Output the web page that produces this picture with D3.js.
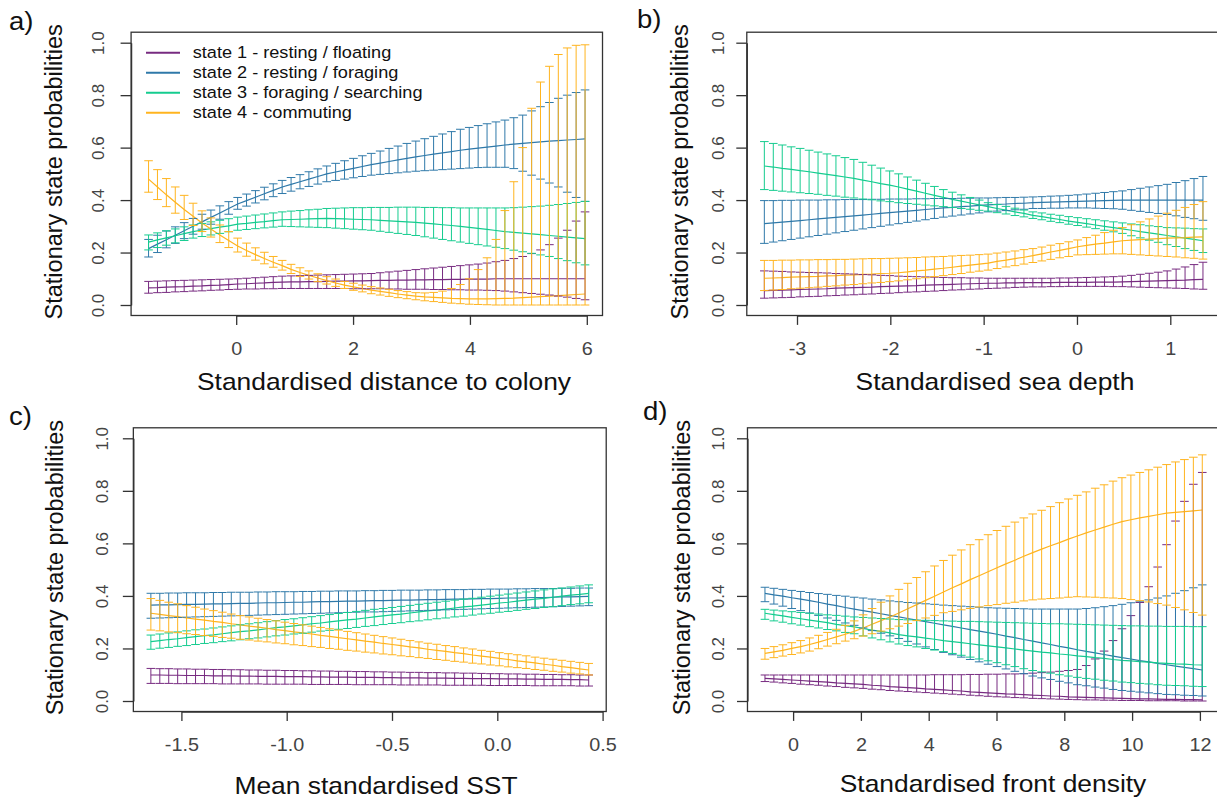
<!DOCTYPE html>
<html>
<head>
<meta charset="utf-8">
<script src="https://cdn.jsdelivr.net/npm/d3@7/dist/d3.min.js"></script>
<style>
  body { margin: 0; background: #fff; }
  text { font-family: "Liberation Sans", Arial, sans-serif; }
</style>
</head>
<body>
<svg id="fig" width="1217" height="801"></svg>
<script>
// covariate grid of each panel: 50 evenly spaced values between these ends
var nGrid = 50;
var aCov = [-1.5, 5.97], bCov = [-3.35, 1.35], cCov = [-1.645, 0.434], dCov = [-0.83, 12.07];

var stateNames = ["state 1 - resting / floating", "state 2 - resting / foraging",
                  "state 3 - foraging / searching", "state 4 - commuting"];
var stateColors = ["#772b80", "#2f79a9", "#15cc8f", "#ffb41f"];

var yTicks = [0, 20, 40, 60, 80, 100]; // percent
var aTicks = [0, 2, 4, 6], bTicks = [-3, -2, -1, 0, 1],
    cTicks = [-1.5, -1, -0.5, 0, 0.5], dTicks = [0, 2, 4, 6, 8, 10, 12];

// stationary state probabilities in %, lower CI / mean / upper CI
// a) distance to colony
var a1lo = [4.5,4.7,4.8,5,5.1,5.3,5.4,5.6,5.7,5.9,6,6.1,6.1,6.2,6.2,6.3,6.3,6.3,6.3,6.3,6.3,6.3,6.3,6.2,6.2,6.2,6.2,6.1,6.1,6,6,6,5.9,5.9,5.8,5.8,5.7,5.7,5.6,5.5,5.3,5,4.7,4.4,4.1,3.8,3.4,3,2.5,2];
var a1mid = [6.5,6.6,6.8,6.9,7,7.2,7.3,7.5,7.6,7.8,8,8.1,8.3,8.4,8.6,8.7,8.8,8.8,8.9,8.9,9,9.1,9.1,9.2,9.2,9.3,9.4,9.4,9.5,9.5,9.6,9.6,9.7,9.7,9.8,9.8,9.9,9.9,9.9,10,10,10,10,10,10,10,10,10,10,10];
var a1hi = [9,9.1,9.2,9.3,9.4,9.5,9.6,9.7,9.8,9.9,10,10.2,10.4,10.6,10.8,11,11.1,11.2,11.3,11.4,11.5,11.6,11.7,11.8,11.9,12,12.3,12.6,12.9,13.2,13.5,13.8,14.1,14.4,14.7,15,15.3,15.6,16,16.5,17,17.7,18.5,19.6,21,23,25.5,28.5,32,35.5];
var a2lo = [18.3,20,21.8,23.5,25.3,27,28.9,30.8,32.7,34.6,36.5,37.7,38.9,40.1,41.3,42.5,43.4,44.3,45.2,46.1,47,47.5,48,48.5,49,49.5,49.8,50.1,50.4,50.7,51,51.2,51.4,51.6,51.8,52,52.2,52.4,52.5,52.5,52.5,52,51,49.5,48,46.5,45,43,41,39.5];
var a2mid = [21.5,23.2,24.9,26.6,28.3,30,31.7,33.4,35.1,36.8,38.5,39.8,41.1,42.4,43.7,45,46,47,48,49,50,50.7,51.4,52.1,52.8,53.5,54.1,54.7,55.3,55.9,56.5,57,57.5,58,58.5,59,59.4,59.8,60.2,60.6,61,61.3,61.6,61.9,62.2,62.5,62.7,62.9,63.1,63.3];
var a2hi = [25,26.6,28.2,29.8,31.4,33,34.6,36.2,37.8,39.4,41,42.3,43.6,44.9,46.2,47.5,48.6,49.7,50.8,51.9,53,54,55,55.9,56.9,57.8,58.7,59.7,60.6,61.6,62.5,63.4,64.3,65.2,66.1,67,67.7,68.4,69.1,69.8,70.5,71.4,72.4,74,75.6,77.2,78.8,80,81,82];
var a3lo = [21,21.9,22.8,23.7,24.6,25.5,26.1,26.7,27.3,27.9,28.5,28.8,29.1,29.4,29.7,30,29.9,29.8,29.7,29.6,29.5,29.3,29.1,28.9,28.7,28.5,28.1,27.7,27.3,26.9,26.5,26,25.5,25,24.5,24,23.5,23,22.5,22,21.5,20.9,20.3,19.7,19.1,18.5,17.7,16.9,16.1,15.3];
var a3mid = [24,24.8,25.6,26.4,27.2,28,28.6,29.1,29.7,30.2,30.8,31.1,31.5,31.8,32.2,32.5,32.6,32.7,32.8,32.9,33,32.9,32.8,32.7,32.6,32.5,32.3,32.1,31.9,31.7,31.5,31.2,30.9,30.6,30.3,30,29.6,29.2,28.8,28.4,28,27.7,27.4,27.1,26.8,26.5,26.2,25.9,25.6,25.3];
var a3hi = [26.7,27.5,28.3,29,29.8,30.5,31.1,31.7,32.3,32.9,33.5,33.9,34.3,34.7,35.1,35.5,35.8,36,36.3,36.5,36.8,36.9,37,37.1,37.1,37.2,37.2,37.2,37.3,37.3,37.3,37.2,37.2,37.1,37.1,37,37,37,37,37,37,37.1,37.3,37.5,37.7,38,38.3,38.7,39.1,39.5];
var a4lo = [43,40.2,37.5,35,32.6,30.3,28,25.9,23.8,21.9,20.2,18.6,17.1,15.7,14.4,13.3,12,10.9,9.9,8.9,8,7.1,6.3,5.6,5,4.3,3.8,3.3,2.8,2.4,2,1.6,1.3,1,0.7,0.5,0.3,0.2,0.1,0,0,0,0,0,0,0,0,0,0,0];
var a4mid = [48,45,42,39.2,36.4,33.8,31.3,29,26.7,24.6,22.5,20.8,19.2,17.7,16.3,15,13.6,12.4,11.3,10.3,9.3,8.4,7.6,6.9,6.3,5.7,5.2,4.7,4.2,3.8,3.4,3.1,2.9,2.7,2.5,2.4,2.3,2.3,2.3,2.4,2.5,2.6,2.8,3,3.2,3.4,3.6,3.8,4,4.2];
var a4hi = [55,51.6,48.2,45,41.8,38.8,35.9,33.2,30.5,28,25.5,23.6,21.8,20.1,18.5,17,15.5,14.2,13,11.9,10.8,9.9,9,8.3,7.6,7,6.5,6,5.5,5.1,4.7,4.6,4.8,5.3,6.3,7.8,10,13.5,18,25,36,47,60,75,85,91,95.5,98,99,99.2];

// b) sea depth
var b1lo = [2.6,2.7,2.8,2.9,3.1,3.2,3.3,3.5,3.6,3.8,3.9,4.1,4.2,4.4,4.5,4.7,4.9,5,5.2,5.3,5.5,5.7,5.8,6,6.1,6.3,6.4,6.5,6.7,6.8,6.9,6.9,7,7,7.1,7.1,7.1,7.1,7.1,7,7,6.9,6.8,6.7,6.6,6.5,6.4,6.3,6.1,6];
var b1mid = [5.5,5.6,5.7,5.8,5.9,6,6.1,6.2,6.4,6.5,6.6,6.7,6.8,7,7.1,7.2,7.3,7.4,7.6,7.7,7.8,7.9,8,8.1,8.2,8.3,8.3,8.4,8.4,8.5,8.5,8.5,8.5,8.6,8.6,8.6,8.6,8.7,8.7,8.7,8.8,8.9,9,9.1,9.2,9.3,9.4,9.5,9.7,9.8];
var b1hi = [13,12.9,12.8,12.6,12.5,12.4,12.3,12.2,12,11.9,11.8,11.6,11.5,11.3,11.2,11,10.9,10.8,10.7,10.6,10.5,10.4,10.4,10.3,10.3,10.2,10.2,10.2,10.2,10.2,10.2,10.2,10.2,10.3,10.3,10.4,10.5,10.6,10.7,10.8,11,11.3,11.7,12.1,12.5,13,13.7,14.5,15.4,16.3];
var b2lo = [23.5,24,24.5,25,25.5,26,26.5,27,27.5,28,28.5,29,29.5,30,30.5,31,31.5,32,32.5,33,33.5,33.9,34.3,34.7,35.1,35.5,35.8,36,36.3,36.5,36.8,36.8,36.9,36.9,37,37,37,36.9,36.8,36.7,36.5,36.1,35.7,35.3,34.9,34.5,34,33.4,32.9,32.3];
var b2mid = [31,31.3,31.6,31.9,32.2,32.5,32.8,33.1,33.4,33.7,34,34.3,34.6,34.9,35.2,35.5,35.8,36.1,36.4,36.7,37,37.2,37.5,37.7,38,38.2,38.4,38.5,38.7,38.8,39,39.1,39.2,39.3,39.4,39.5,39.6,39.7,39.8,39.9,40,40,40,40,40,40,40,40,40,40];
var b2hi = [39.8,39.8,39.9,39.9,40,40,40,40.1,40.1,40.2,40.2,40.2,40.3,40.3,40.4,40.4,40.4,40.5,40.5,40.6,40.6,40.6,40.7,40.7,40.8,40.8,40.9,41,41,41.1,41.2,41.3,41.5,41.6,41.8,42,42.3,42.6,42.9,43.2,43.5,44,44.5,45,45.5,46,46.7,47.4,48.2,49];
var b3lo = [44,43.7,43.4,43.1,42.8,42.5,42.2,41.8,41.5,41.1,40.8,40.4,40.1,39.7,39.4,39,38.7,38.4,38.1,37.8,37.5,37.2,36.8,36.5,36.1,35.8,35.2,34.7,34.1,33.6,33,32.5,31.9,31.4,30.8,30.3,29.7,29.1,28.5,27.9,27.3,26.4,25.6,24.7,23.9,23,22.3,21.5,20.8,20];
var b3mid = [53,52.6,52.1,51.7,51.2,50.8,50.3,49.8,49.3,48.8,48.3,47.6,47,46.3,45.7,45,44.2,43.4,42.6,41.8,41,40.3,39.6,38.9,38.2,37.5,36.8,36.2,35.5,34.9,34.2,33.7,33.1,32.6,32,31.5,31,30.5,30,29.5,29,28.5,28,27.5,27,26.5,26,25.5,25,24.5];
var b3hi = [62.3,61.6,61,60.3,59.7,59,58.3,57.6,56.9,56.2,55.5,54.4,53.3,52.2,51.1,50,48.8,47.6,46.4,45.2,44,43,42,41,40,39,38.3,37.6,36.9,36.2,35.5,35.1,34.6,34.2,33.7,33.3,32.9,32.5,32.1,31.7,31.3,30.9,30.6,30.2,29.9,29.5,29.4,29.3,29.1,29];
var b4lo = [5.5,5.7,5.9,6.2,6.4,6.6,6.8,7.1,7.3,7.6,7.8,8.1,8.4,8.6,8.9,9.2,9.6,10,10.4,10.8,11.2,11.6,12,12.5,12.9,13.3,13.9,14.5,15,15.6,16.2,16.8,17.4,18,18.5,19.1,19.2,19.3,19.4,19.5,19.5,19.3,19.1,18.9,18.7,18.5,18.3,18,17.8,17.5];
var b4mid = [10.2,10.3,10.4,10.6,10.7,10.8,10.9,11.1,11.2,11.4,11.5,11.7,11.8,12,12.1,12.3,12.6,13,13.3,13.7,14,14.4,14.8,15.2,15.6,16,16.6,17.1,17.7,18.2,18.8,19.5,20.2,20.8,21.5,22.2,22.7,23.2,23.6,24.1,24.5,24.7,24.9,25.1,25.3,25.5,25.6,25.7,25.9,26];
var b4hi = [17,17,17.1,17.1,17.2,17.2,17.3,17.3,17.4,17.4,17.5,17.6,17.7,17.7,17.8,17.9,18,18.1,18.3,18.4,18.5,18.7,18.9,19,19.2,19.4,19.8,20.2,20.6,21.1,21.5,22.1,22.8,23.4,24.1,24.8,25.7,26.6,27.6,28.5,29.5,30.6,31.7,32.8,33.9,35,36.1,37.2,38.3,39.4];

// c) mean SST
var c1lo = [6.7,6.7,6.7,6.6,6.6,6.6,6.6,6.6,6.5,6.5,6.5,6.5,6.5,6.4,6.4,6.4,6.4,6.4,6.3,6.3,6.3,6.3,6.3,6.2,6.2,6.2,6.2,6.2,6.1,6.1,6.1,6.1,6.1,6,6,6,6,6,5.9,5.9,5.9,5.9,5.9,5.8,5.8,5.8,5.8,5.8,5.7,5.7];
var c1mid = [9.9,9.9,9.8,9.8,9.7,9.7,9.7,9.6,9.6,9.6,9.5,9.5,9.4,9.4,9.4,9.3,9.3,9.3,9.2,9.2,9.1,9.1,9.1,9,9,9,8.9,8.9,8.8,8.8,8.8,8.7,8.7,8.7,8.6,8.6,8.5,8.5,8.5,8.4,8.4,8.4,8.3,8.3,8.2,8.2,8.2,8.1,8.1,8];
var c1hi = [12.4,12.3,12.3,12.2,12.2,12.1,12.1,12,12,11.9,11.9,11.8,11.8,11.7,11.7,11.6,11.6,11.5,11.5,11.4,11.4,11.3,11.3,11.2,11.2,11.1,11.1,11,11,10.9,10.9,10.8,10.8,10.7,10.7,10.6,10.6,10.5,10.4,10.4,10.3,10.3,10.2,10.2,10.1,10.1,10,10,9.9,9.9];
var c2lo = [31.5,31.6,31.7,31.8,31.9,32,32.1,32.2,32.3,32.4,32.5,32.6,32.7,32.8,32.9,33,33.1,33.2,33.3,33.4,33.5,33.6,33.7,33.8,33.9,33.9,34,34.1,34.2,34.3,34.4,34.5,34.6,34.7,34.8,34.9,35,35.1,35.2,35.3,35.4,35.5,35.6,35.7,35.8,35.9,36,36.1,36.2,36.3];
var c2mid = [36.5,36.6,36.6,36.7,36.8,36.8,36.9,37,37,37.1,37.2,37.2,37.3,37.4,37.4,37.5,37.6,37.6,37.7,37.8,37.8,37.9,38,38,38.1,38.2,38.2,38.3,38.4,38.4,38.5,38.6,38.6,38.7,38.8,38.8,38.9,39,39,39.1,39.2,39.2,39.3,39.4,39.4,39.5,39.6,39.6,39.7,39.8];
var c2hi = [41,41,41.1,41.1,41.2,41.2,41.2,41.3,41.3,41.4,41.4,41.4,41.5,41.5,41.6,41.6,41.6,41.7,41.7,41.8,41.8,41.9,41.9,41.9,42,42,42.1,42.1,42.2,42.2,42.2,42.3,42.3,42.4,42.4,42.4,42.5,42.5,42.6,42.6,42.6,42.7,42.7,42.8,42.8,42.8,42.9,42.9,43,43];
var c3lo = [19.7,20.1,20.4,20.8,21.1,21.5,21.9,22.2,22.6,22.9,23.3,23.7,24,24.4,24.8,25.1,25.5,25.8,26.2,26.6,26.9,27.3,27.6,28,28.4,28.7,29.1,29.5,29.8,30.2,30.5,30.9,31.3,31.6,32,32.3,32.7,33.1,33.4,33.8,34.1,34.5,34.9,35.2,35.6,35.9,36.3,36.7,37,37.4];
var c3mid = [22.6,23,23.4,23.7,24.1,24.5,24.9,25.2,25.6,26,26.4,26.7,27.1,27.5,27.9,28.2,28.6,29,29.4,29.7,30.1,30.5,30.9,31.2,31.6,32,32.4,32.8,33.1,33.5,33.9,34.3,34.6,35,35.4,35.8,36.1,36.5,36.9,37.3,37.6,38,38.4,38.8,39.1,39.5,39.9,40.3,40.6,41];
var c3hi = [25.1,25.5,25.9,26.3,26.7,27.1,27.4,27.8,28.2,28.6,29,29.4,29.8,30.2,30.6,31,31.3,31.7,32.1,32.5,32.9,33.3,33.7,34.1,34.5,34.9,35.2,35.6,36,36.4,36.8,37.2,37.6,38,38.4,38.8,39.1,39.5,39.9,40.3,40.7,41.1,41.5,41.9,42.3,42.7,43,43.4,43.8,44.2];
var c4lo = [27,26.7,26.3,26,25.6,25.3,24.9,24.6,24.2,23.9,23.5,23.2,22.8,22.5,22.1,21.8,21.4,21.1,20.7,20.4,20,19.7,19.3,19,18.6,18.3,17.9,17.6,17.2,16.9,16.5,16.2,15.8,15.5,15.1,14.8,14.4,14.1,13.7,13.4,13,12.7,12.4,12,11.7,11.3,11,10.6,10.3,9.9];
var c4mid = [33.4,33,32.5,32.1,31.6,31.2,30.8,30.3,29.9,29.4,29,28.5,28.1,27.7,27.2,26.8,26.3,25.9,25.5,25,24.6,24.1,23.7,23.3,22.8,22.4,21.9,21.5,21.1,20.6,20.2,19.7,19.3,18.9,18.4,18,17.5,17.1,16.7,16.2,15.8,15.3,14.9,14.5,14,13.6,13.1,12.7,12.2,11.8];
var c4hi = [39,38.3,37.6,37,36.3,35.7,35,34.4,33.8,33.1,32.5,32,31.5,31,30.5,30,29.5,29,28.5,28,27.5,27,26.5,26,25.5,25,24.5,24,23.5,23,22.5,22,21.6,21.1,20.7,20.2,19.8,19.3,18.9,18.4,18,17.6,17.2,16.7,16.3,15.9,15.5,15.1,14.7,14.3];

// d) front density
var d1lo = [7.4,7.2,6.9,6.7,6.4,6.2,6,5.7,5.5,5.2,5,4.8,4.5,4.3,4,3.8,3.6,3.4,3.2,3,2.8,2.6,2.4,2.2,2,1.8,1.6,1.5,1.3,1.2,1,0.9,0.8,0.7,0.6,0.5,0.4,0.4,0.3,0.3,0.2,0.2,0.2,0.1,0.1,0.1,0.1,0,0,0];
var d1mid = [8.6,8.4,8.2,8,7.8,7.6,7.4,7.2,6.9,6.7,6.5,6.3,6,5.8,5.5,5.3,5.1,4.9,4.6,4.4,4.2,4,3.8,3.5,3.3,3.1,2.9,2.7,2.6,2.4,2.2,2.1,1.9,1.8,1.6,1.5,1.4,1.3,1.2,1.1,1,0.9,0.8,0.8,0.7,0.6,0.6,0.5,0.5,0.4];
var d1hi = [9.9,9.9,9.9,9.9,9.9,9.9,9.9,9.9,9.9,9.9,9.9,9.9,9.9,9.9,9.9,9.9,9.9,9.9,9.9,10,10,10,10,10.1,10.1,10.2,10.2,10.3,10.3,10.4,10.6,10.8,11,11.3,11.6,12,13.5,16,19,23,27.5,32.5,37.5,43.5,51,59.5,68.5,76,82.5,87];
var d2lo = [37.8,36.9,36.1,35.2,34.4,33.5,32.6,31.6,30.7,29.7,28.8,27.8,26.8,25.8,24.8,23.8,22.7,21.7,20.6,19.6,18.5,17.6,16.7,15.8,14.9,14,13.1,12.2,11.3,10.4,9.5,8.8,8.2,7.5,6.9,6.2,5.8,5.3,4.9,4.4,4,3.7,3.4,3.1,2.8,2.5,2.4,2.2,2.1,1.9];
var d2mid = [41,40.4,39.9,39.3,38.8,38.2,37.6,36.9,36.3,35.6,35,34.4,33.8,33.2,32.6,32,31.4,30.8,30.2,29.6,29,28.4,27.8,27.2,26.6,26,25.4,24.7,24.1,23.4,22.8,22.1,21.5,20.8,20.2,19.5,18.9,18.3,17.7,17.1,16.5,16,15.4,14.9,14.3,13.8,13.3,12.8,12.3,11.8];
var d2hi = [43.3,42.9,42.5,42.1,41.7,41.3,40.9,40.6,40.2,39.9,39.5,39.2,38.8,38.5,38.1,37.8,37.5,37.3,37,36.8,36.5,36.3,36.1,35.9,35.7,35.5,35.4,35.3,35.2,35.1,35,35,35,35,35,35,35.2,35.5,35.9,36.3,36.8,37.4,38,38.5,39.2,40,41,42,43.1,44.2];
var d3lo = [31.1,30.5,30,29.4,28.9,28.3,27.8,27.2,26.7,26.1,25.6,24.8,24,23.3,22.5,21.7,21.1,20.6,20,19.4,18.8,18.1,17.4,16.7,16,15.3,14.6,13.8,13.1,12.3,11.6,11.1,10.6,10,9.5,9,8.6,8.3,7.9,7.6,7.2,7,6.7,6.5,6.2,6,5.9,5.8,5.6,5.5];
var d3mid = [33.4,32.9,32.4,31.8,31.3,30.8,30.3,29.8,29.2,28.7,28.2,27.6,27,26.5,25.9,25.3,24.8,24.4,23.9,23.5,23,22.6,22.2,21.8,21.4,21,20.6,20.2,19.8,19.4,19,18.6,18.3,17.9,17.6,17.2,16.9,16.5,16.2,15.8,15.5,15.3,15,14.8,14.5,14.3,14.1,14,13.8,13.7];
var d3hi = [34.9,34.6,34.3,34,33.7,33.4,33.1,32.8,32.6,32.3,32,31.8,31.6,31.4,31.2,31,30.9,30.8,30.7,30.6,30.5,30.4,30.3,30.3,30.2,30.1,30,29.9,29.8,29.7,29.6,29.5,29.4,29.4,29.3,29.2,29.1,29,28.9,28.8,28.7,28.6,28.6,28.5,28.5,28.4,28.4,28.4,28.3,28.3];
var d4lo = [15.9,16.5,17.1,17.7,18.3,19,19.9,20.9,21.8,22.8,23.7,24.7,25.6,26.6,27.5,28.5,29.5,30.6,31.6,32.6,33.6,34.1,34.7,35.2,35.8,36.3,36.7,37.2,37.6,38.1,38.5,38.8,39,39.2,39.5,39.7,39.6,39.5,39.3,39.2,39,38.6,38.2,37.7,37.1,36.5,35.6,34.7,33.7,32.7];
var d4mid = [18.1,18.7,19.3,20,20.7,21.5,22.4,23.4,24.4,25.4,26.5,27.8,29.2,30.6,32,33.5,35.1,36.7,38.3,39.9,41.5,43.1,44.6,46.2,47.7,49.2,50.7,52.2,53.6,55.1,56.5,57.8,59.1,60.3,61.6,62.8,64,65.1,66.2,67.3,68.3,69,69.7,70.3,70.9,71.5,71.8,72.1,72.4,72.7];
var d4hi = [20,20.7,21.4,22.2,23,24,25,26.1,27.3,28.8,30.5,32.8,35.2,37.6,40,42.5,44.8,47,49.2,51.4,53.5,55.5,57.5,59.5,61.4,63.3,64.9,66.5,68.1,69.7,71.2,72.6,74,75.5,76.9,78.3,79.6,81,82.3,83.7,85,86,87,88,89,90,91,91.9,92.8,93.7];

var svg = d3.select("#fig");
var capHalf = 4.3;
var yTop = d3.scaleLinear().domain([0, 100]).range([305, 42.7]);
var yBot = d3.scaleLinear().domain([0, 100]).range([701, 438.3]);

// R style tick text: plain hyphen for negatives
var intFmt = function(v) { return String(v); };
var oneDec = function(v) { return v.toFixed(1); };

var panels = [
  { tag: "a)", cov: aCov, ticks: aTicks, fmt: intFmt, title: "Standardised distance to colony",
    lo: [a1lo, a2lo, a3lo, a4lo], mid: [a1mid, a2mid, a3mid, a4mid], hi: [a1hi, a2hi, a3hi, a4hi],
    x: d3.scaleLinear().domain([0, 6]).range([236.2, 586.8]), y: yTop,
    tagXY: [9, 30], yTitleX: 62, yLabX: 104, xLabY: 355, titleXY: [384, 390], legend: true },
  { tag: "b)", cov: bCov, ticks: bTicks, fmt: intFmt, title: "Standardised sea depth",
    lo: [b1lo, b2lo, b3lo, b4lo], mid: [b1mid, b2mid, b3mid, b4mid], hi: [b1hi, b2hi, b3hi, b4hi],
    x: d3.scaleLinear().domain([-3, 1]).range([797, 1170.3]), y: yTop,
    tagXY: [637, 28], yTitleX: 688, yLabX: 724, xLabY: 355, titleXY: [995, 390] },
  { tag: "c)", cov: cCov, ticks: cTicks, fmt: oneDec, title: "Mean standardised SST",
    lo: [c1lo, c2lo, c3lo, c4lo], mid: [c1mid, c2mid, c3mid, c4mid], hi: [c1hi, c2hi, c3hi, c4hi],
    x: d3.scaleLinear().domain([-1.5, 0.5]).range([181.4, 602.6]), y: yBot,
    tagXY: [9, 425], yTitleX: 63, yLabX: 108, xLabY: 751, titleXY: [376, 794] },
  { tag: "d)", cov: dCov, ticks: dTicks, fmt: intFmt, title: "Standardised front density",
    lo: [d1lo, d2lo, d3lo, d4lo], mid: [d1mid, d2mid, d3mid, d4mid], hi: [d1hi, d2hi, d3hi, d4hi],
    x: d3.scaleLinear().domain([0, 12]).range([793.1, 1199.9]), y: yBot,
    tagXY: [643, 420], yTitleX: 690, yLabX: 724, xLabY: 751, titleXY: [993, 792] }
];

panels.forEach(function(p) {
  var g = svg.append("g");
  var span = p.cov[1] - p.cov[0];
  var grid = d3.range(nGrid).map(function(i) { return p.cov[0] + i * span / (nGrid - 1); });
  var bx0 = p.x(p.cov[0] - 0.04 * span), bx1 = p.x(p.cov[1] + 0.04 * span);
  var by0 = p.y(-4), by1 = p.y(104);

  // mean curves go first, the error bars are drawn over them
  var line = d3.line().x(function(d, i) { return p.x(grid[i]); }).y(function(d) { return p.y(d); });
  p.mid.forEach(function(m, s) {
    g.append("path").attr("d", line(m)).attr("fill", "none")
      .attr("stroke", stateColors[s]).attr("stroke-width", 1.2);
  });

  // error bars with caps, state 1 to 4
  p.lo.forEach(function(lo, s) {
    var hi = p.hi[s];
    var d = lo.map(function(v, i) {
      var x = p.x(grid[i]), y0 = p.y(v), y1 = p.y(hi[i]);
      return "M" + x + "," + y0 + "V" + y1 +
             "M" + (x - capHalf) + "," + y1 + "H" + (x + capHalf) +
             "M" + (x - capHalf) + "," + y0 + "H" + (x + capHalf);
    }).join("");
    g.append("path").attr("d", d).attr("fill", "none")
      .attr("stroke", stateColors[s]).attr("stroke-width", 1);
  });

  // frame
  g.append("rect").attr("x", bx0).attr("y", by1).attr("width", bx1 - bx0).attr("height", by0 - by1)
    .attr("fill", "none").attr("stroke", "#333").attr("stroke-width", 1.3);

  // x axis
  var xa = g.append("g").attr("transform", "translate(0," + by0 + ")")
    .call(d3.axisBottom(p.x).tickValues(p.ticks).tickFormat(p.fmt).tickSize(9.4).tickSizeOuter(0));
  xa.select(".domain").attr("stroke", "#333").attr("stroke-width", 1.3);
  xa.selectAll(".tick line").attr("stroke", "#333").attr("stroke-width", 1.3);
  xa.selectAll(".tick text").attr("y", p.xLabY - by0).attr("dy", 0)
    .attr("transform", "scale(1.1,1)").attr("fill", "#444")
    .style("font-size", "18px").style("font-family", "'Liberation Sans', Arial, sans-serif");

  // y axis, labels parallel to the axis
  var ya = g.append("g").attr("transform", "translate(" + bx0 + ",0)")
    .call(d3.axisLeft(p.y).tickValues(yTicks).tickSize(10.5).tickSizeOuter(0)
      .tickFormat(function(v) { return (v / 100).toFixed(1); }));
  ya.select(".domain").attr("stroke", "#333").attr("stroke-width", 1.3);
  ya.selectAll(".tick line").attr("stroke", "#333").attr("stroke-width", 1.3);
  ya.selectAll(".tick text").attr("transform", "rotate(-90)")
    .attr("x", 0).attr("y", -(bx0 - p.yLabX)).attr("dy", 0)
    .attr("text-anchor", "middle").attr("fill", "#444")
    .style("font-size", "17px").style("font-family", "'Liberation Sans', Arial, sans-serif");

  // titles
  g.append("text").attr("transform", "translate(" + p.titleXY[0] + "," + p.titleXY[1] + ") scale(1.1,1)")
    .attr("text-anchor", "middle").attr("fill", "#111").style("font-size", "24px").text(p.title);
  var yMid = (p.y(0) + p.y(100)) / 2 - 2;
  g.append("text").attr("transform", "translate(" + p.yTitleX + "," + yMid + ") rotate(-90)")
    .attr("text-anchor", "middle").attr("fill", "#111").style("font-size", "23.5px")
    .text("Stationary state probabilities");
  g.append("text").attr("transform", "translate(" + p.tagXY[0] + "," + p.tagXY[1] + ") scale(1.1,1)")
    .attr("fill", "#111").style("font-size", "25px").text(p.tag);

  if (p.legend) {
    var lg = g.append("g").selectAll("g").data(stateNames).enter().append("g")
      .attr("transform", function(d, i) { return "translate(146," + (52.7 + i * 20) + ")"; });
    lg.append("line").attr("x1", 0).attr("x2", 34)
      .attr("stroke", function(d, i) { return stateColors[i]; }).attr("stroke-width", 2);
    lg.append("text").attr("transform", "translate(46.7,0) scale(1.1,1)").attr("dy", "0.35em")
      .attr("fill", "#111").style("font-size", "16.5px").text(function(d) { return d; });
  }
});
</script>
</body>
</html>
